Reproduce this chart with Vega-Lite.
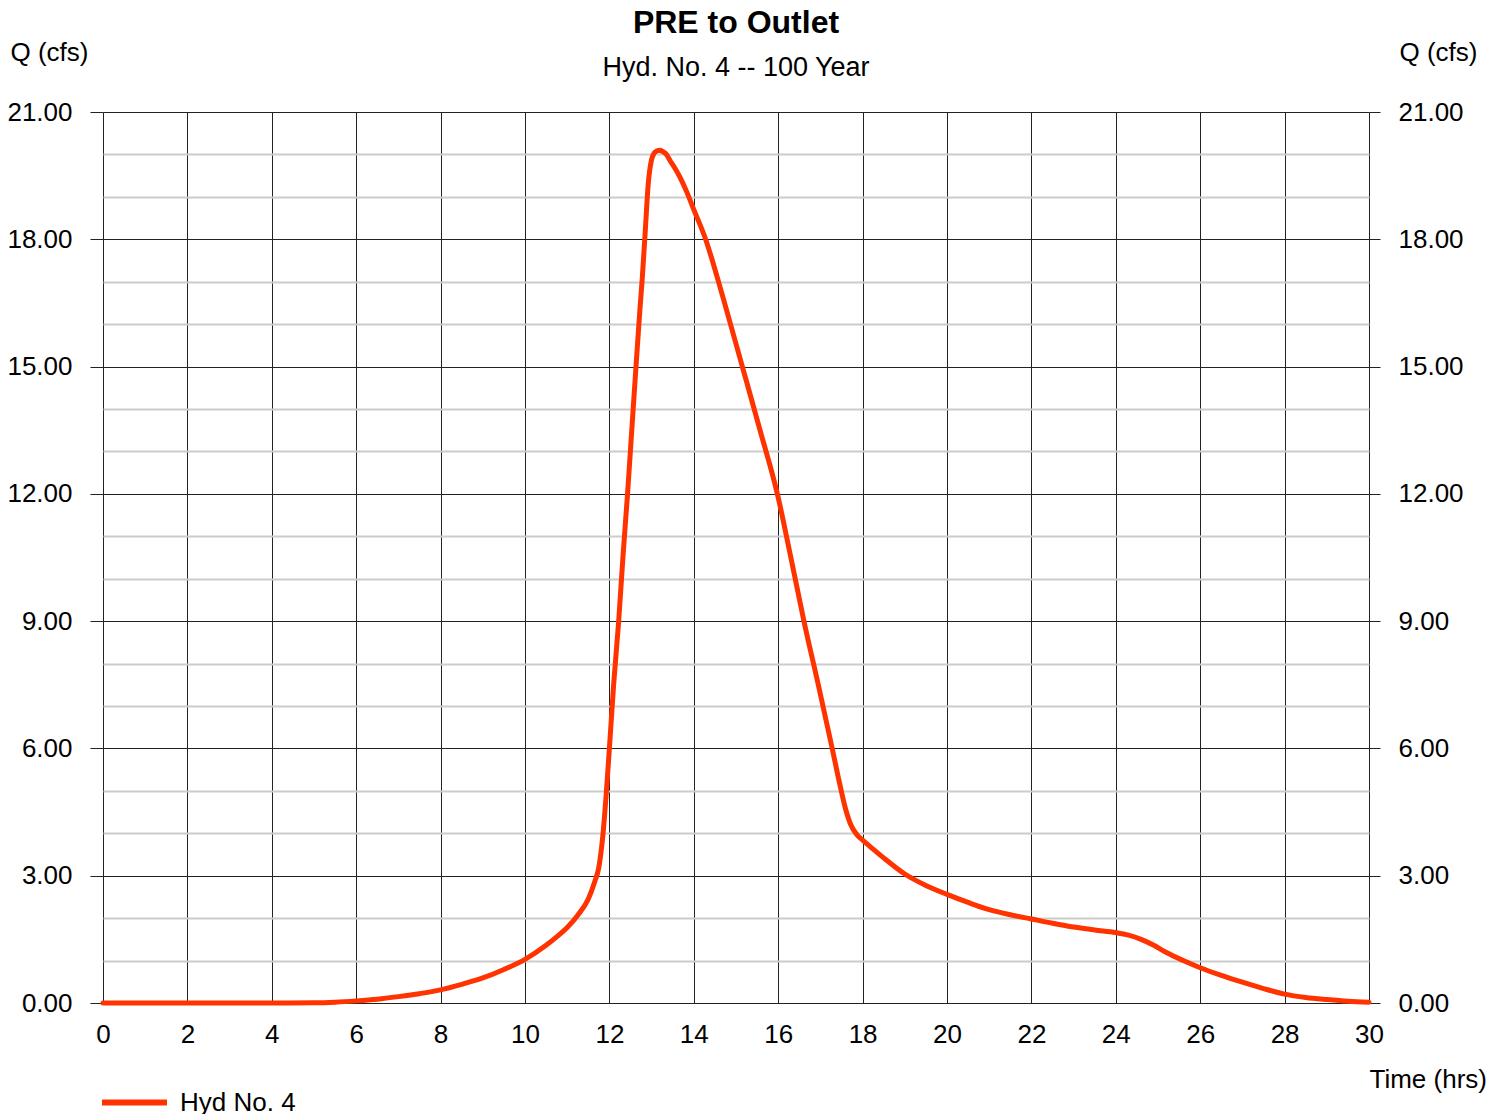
{
  "$schema": "https://vega.github.io/schema/vega-lite/v6.json",
  "autosize": {"type": "none"},
  "padding": {"left": 103, "top": 112, "right": 137, "bottom": 111},
  "width": 1266,
  "height": 891,
  "background": "white",
  "title": {
    "text": "PRE to Outlet",
    "subtitle": "Hyd. No. 4 -- 100 Year",
    "font": "Liberation Sans",
    "fontSize": 32,
    "fontWeight": "bold",
    "color": "#000000",
    "subtitleFont": "Liberation Sans",
    "subtitleFontSize": 27,
    "subtitleColor": "#000000",
    "subtitlePadding": 15,
    "anchor": "middle",
    "frame": "group",
    "offset": -43
  },
  "data": {
    "values": [
      {"t": 0, "q": 0, "series": "Hyd No. 4"},
      {"t": 1, "q": 0, "series": "Hyd No. 4"},
      {"t": 2, "q": 0, "series": "Hyd No. 4"},
      {"t": 3, "q": 0, "series": "Hyd No. 4"},
      {"t": 4, "q": 0, "series": "Hyd No. 4"},
      {"t": 5, "q": 0.005, "series": "Hyd No. 4"},
      {"t": 5.5, "q": 0.02, "series": "Hyd No. 4"},
      {"t": 6, "q": 0.05, "series": "Hyd No. 4"},
      {"t": 6.5, "q": 0.09, "series": "Hyd No. 4"},
      {"t": 7, "q": 0.15, "series": "Hyd No. 4"},
      {"t": 7.5, "q": 0.22, "series": "Hyd No. 4"},
      {"t": 8, "q": 0.31, "series": "Hyd No. 4"},
      {"t": 8.5, "q": 0.44, "series": "Hyd No. 4"},
      {"t": 9, "q": 0.59, "series": "Hyd No. 4"},
      {"t": 9.5, "q": 0.79, "series": "Hyd No. 4"},
      {"t": 10, "q": 1.03, "series": "Hyd No. 4"},
      {"t": 10.5, "q": 1.36, "series": "Hyd No. 4"},
      {"t": 10.75, "q": 1.56, "series": "Hyd No. 4"},
      {"t": 11, "q": 1.78, "series": "Hyd No. 4"},
      {"t": 11.25, "q": 2.07, "series": "Hyd No. 4"},
      {"t": 11.5, "q": 2.45, "series": "Hyd No. 4"},
      {"t": 11.65, "q": 2.85, "series": "Hyd No. 4"},
      {"t": 11.75, "q": 3.2, "series": "Hyd No. 4"},
      {"t": 11.85, "q": 4.0, "series": "Hyd No. 4"},
      {"t": 11.93, "q": 5.0, "series": "Hyd No. 4"},
      {"t": 12.0, "q": 6.0, "series": "Hyd No. 4"},
      {"t": 12.1, "q": 7.5, "series": "Hyd No. 4"},
      {"t": 12.22, "q": 9.0, "series": "Hyd No. 4"},
      {"t": 12.32, "q": 10.5, "series": "Hyd No. 4"},
      {"t": 12.43, "q": 12.0, "series": "Hyd No. 4"},
      {"t": 12.53, "q": 13.5, "series": "Hyd No. 4"},
      {"t": 12.63, "q": 15.0, "series": "Hyd No. 4"},
      {"t": 12.72, "q": 16.3, "series": "Hyd No. 4"},
      {"t": 12.78, "q": 17.1, "series": "Hyd No. 4"},
      {"t": 12.85, "q": 18.2, "series": "Hyd No. 4"},
      {"t": 12.92, "q": 19.3, "series": "Hyd No. 4"},
      {"t": 13.0, "q": 19.88, "series": "Hyd No. 4"},
      {"t": 13.06, "q": 20.03, "series": "Hyd No. 4"},
      {"t": 13.12, "q": 20.08, "series": "Hyd No. 4"},
      {"t": 13.2, "q": 20.1, "series": "Hyd No. 4"},
      {"t": 13.26, "q": 20.07, "series": "Hyd No. 4"},
      {"t": 13.35, "q": 20.0, "series": "Hyd No. 4"},
      {"t": 13.44, "q": 19.85, "series": "Hyd No. 4"},
      {"t": 13.55, "q": 19.68, "series": "Hyd No. 4"},
      {"t": 13.68, "q": 19.45, "series": "Hyd No. 4"},
      {"t": 13.84, "q": 19.1, "series": "Hyd No. 4"},
      {"t": 14.0, "q": 18.7, "series": "Hyd No. 4"},
      {"t": 14.28, "q": 18.0, "series": "Hyd No. 4"},
      {"t": 14.39, "q": 17.66, "series": "Hyd No. 4"},
      {"t": 14.7, "q": 16.6, "series": "Hyd No. 4"},
      {"t": 15.15, "q": 15.0, "series": "Hyd No. 4"},
      {"t": 15.57, "q": 13.5, "series": "Hyd No. 4"},
      {"t": 15.98, "q": 12.0, "series": "Hyd No. 4"},
      {"t": 16.3, "q": 10.5, "series": "Hyd No. 4"},
      {"t": 16.61, "q": 9.0, "series": "Hyd No. 4"},
      {"t": 16.95, "q": 7.5, "series": "Hyd No. 4"},
      {"t": 17.28, "q": 6.0, "series": "Hyd No. 4"},
      {"t": 17.45, "q": 5.2, "series": "Hyd No. 4"},
      {"t": 17.6, "q": 4.56, "series": "Hyd No. 4"},
      {"t": 17.72, "q": 4.2, "series": "Hyd No. 4"},
      {"t": 17.87, "q": 3.96, "series": "Hyd No. 4"},
      {"t": 18.0, "q": 3.84, "series": "Hyd No. 4"},
      {"t": 18.2, "q": 3.67, "series": "Hyd No. 4"},
      {"t": 18.5, "q": 3.42, "series": "Hyd No. 4"},
      {"t": 19.0, "q": 3.04, "series": "Hyd No. 4"},
      {"t": 19.5, "q": 2.77, "series": "Hyd No. 4"},
      {"t": 20, "q": 2.56, "series": "Hyd No. 4"},
      {"t": 20.5, "q": 2.37, "series": "Hyd No. 4"},
      {"t": 21, "q": 2.2, "series": "Hyd No. 4"},
      {"t": 21.5, "q": 2.08, "series": "Hyd No. 4"},
      {"t": 22, "q": 1.98, "series": "Hyd No. 4"},
      {"t": 22.5, "q": 1.88, "series": "Hyd No. 4"},
      {"t": 23, "q": 1.79, "series": "Hyd No. 4"},
      {"t": 23.5, "q": 1.72, "series": "Hyd No. 4"},
      {"t": 24, "q": 1.66, "series": "Hyd No. 4"},
      {"t": 24.3, "q": 1.6, "series": "Hyd No. 4"},
      {"t": 24.6, "q": 1.5, "series": "Hyd No. 4"},
      {"t": 24.9, "q": 1.36, "series": "Hyd No. 4"},
      {"t": 25.2, "q": 1.19, "series": "Hyd No. 4"},
      {"t": 25.6, "q": 1.0, "series": "Hyd No. 4"},
      {"t": 26, "q": 0.83, "series": "Hyd No. 4"},
      {"t": 26.5, "q": 0.65, "series": "Hyd No. 4"},
      {"t": 27, "q": 0.49, "series": "Hyd No. 4"},
      {"t": 27.5, "q": 0.34, "series": "Hyd No. 4"},
      {"t": 28, "q": 0.21, "series": "Hyd No. 4"},
      {"t": 28.5, "q": 0.13, "series": "Hyd No. 4"},
      {"t": 29, "q": 0.08, "series": "Hyd No. 4"},
      {"t": 29.5, "q": 0.04, "series": "Hyd No. 4"},
      {"t": 30, "q": 0.02, "series": "Hyd No. 4"}
    ]
  },
  "encoding": {
    "x": {
      "field": "t",
      "type": "quantitative",
      "scale": {"domain": [0, 30], "nice": false, "zero": false},
      "axis": {
        "values": [0, 2, 4, 6, 8, 10, 12, 14, 16, 18, 20, 22, 24, 26, 28, 30],
        "grid": true,
        "gridColor": "#222222",
        "gridWidth": 1,
        "gridOpacity": 1,
        "domain": false,
        "ticks": false,
        "labelPadding": 18,
        "labelFont": "Liberation Sans",
        "labelFontSize": 26,
        "labelColor": "#000000",
        "labelFlush": false,
        "labelOverlap": false,
        "title": "Time (hrs)",
        "titleFont": "Liberation Sans",
        "titleFontSize": 26,
        "titleFontWeight": "normal",
        "titleColor": "#000000",
        "titleAlign": "left",
        "titleBaseline": "alphabetic",
        "titleAnchor": "start",
        "titleX": 1266,
        "titleY": 84
      }
    }
  },
  "layer": [
    {
      "mark": {"type": "line", "opacity": 0},
      "encoding": {
        "y": {
          "field": "q",
          "type": "quantitative",
          "scale": {"domain": [0, 21], "nice": false, "zero": true},
          "axis": {
            "orient": "left",
            "values": [1, 2, 4, 5, 7, 8, 10, 11, 13, 14, 16, 17, 19, 20],
            "grid": true,
            "gridColor": "#cccccc",
            "gridWidth": 2,
            "gridOpacity": 1,
            "labels": false,
            "ticks": false,
            "domain": false,
            "title": null
          }
        }
      }
    },
    {
      "mark": {"type": "line", "strokeWidth": 5, "strokeCap": "round", "strokeJoin": "round", "interpolate": "monotone"},
      "encoding": {
        "y": {
          "field": "q",
          "type": "quantitative",
          "scale": {"domain": [0, 21], "nice": false, "zero": true},
          "axis": {
            "orient": "left",
            "values": [0, 3, 6, 9, 12, 15, 18, 21],
            "format": ".2f",
            "grid": true,
            "gridColor": "#222222",
            "gridWidth": 1,
            "gridOpacity": 1,
            "domain": false,
            "ticks": true,
            "tickSize": 13,
            "tickColor": "#222222",
            "tickWidth": 1,
            "labelPadding": 18,
            "labelFont": "Liberation Sans",
            "labelFontSize": 26,
            "labelColor": "#000000",
            "labelFlush": false,
            "labelOverlap": false,
            "title": "Q (cfs)",
            "titleAngle": 0,
            "titleFont": "Liberation Sans",
            "titleFontSize": 26,
            "titleFontWeight": "normal",
            "titleColor": "#000000",
            "titleAlign": "left",
            "titleBaseline": "alphabetic",
            "titleX": -93,
            "titleY": -52
          }
        },
        "color": {
          "field": "series",
          "type": "nominal",
          "scale": {"range": ["#ff3300"]},
          "legend": {
            "orient": "none",
            "legendX": -4,
            "legendY": 955,
            "title": null,
            "padding": 0,
            "symbolType": "stroke",
            "symbolSize": 4225,
            "symbolStrokeWidth": 6,
            "labelOffset": 10,
            "labelFont": "Liberation Sans",
            "labelFontSize": 26,
            "labelColor": "#000000",
            "labelLimit": 400
          }
        }
      }
    },
    {
      "mark": {"type": "line", "opacity": 0},
      "encoding": {
        "y": {
          "field": "q",
          "type": "quantitative",
          "scale": {"domain": [0, 21], "nice": false, "zero": true},
          "axis": {
            "orient": "right",
            "values": [0, 3, 6, 9, 12, 15, 18, 21],
            "format": ".2f",
            "grid": false,
            "domain": false,
            "ticks": true,
            "tickSize": 11,
            "tickColor": "#222222",
            "tickWidth": 1,
            "labelPadding": 18,
            "labelFont": "Liberation Sans",
            "labelFontSize": 26,
            "labelColor": "#000000",
            "labelFlush": false,
            "labelOverlap": false,
            "title": "Q (cfs)",
            "titleAngle": 0,
            "titleFont": "Liberation Sans",
            "titleFontSize": 26,
            "titleFontWeight": "normal",
            "titleColor": "#000000",
            "titleAlign": "left",
            "titleBaseline": "alphabetic",
            "titleX": 30,
            "titleY": -52
          }
        }
      }
    }
  ],
  "resolve": {"axis": {"y": "independent"}},
  "config": {
    "view": {"stroke": null}
  }
}
